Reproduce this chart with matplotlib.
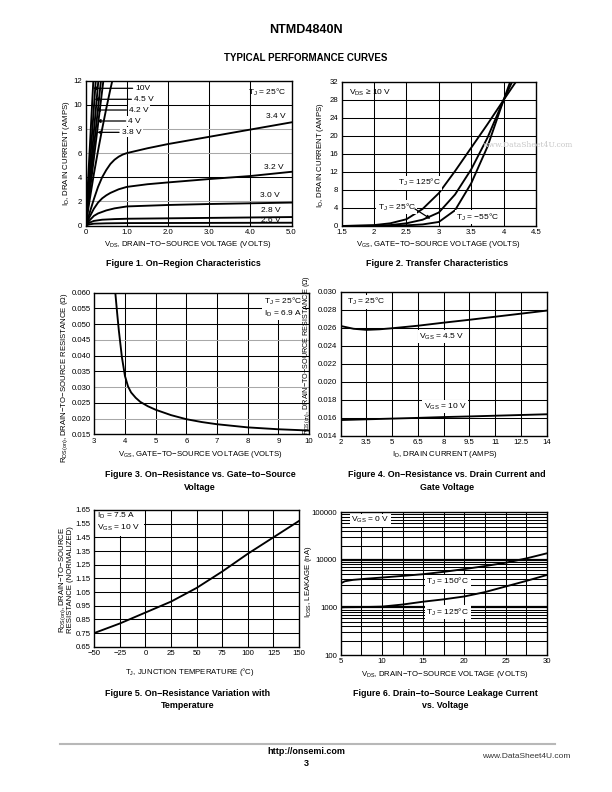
import numpy as np
import matplotlib
matplotlib.use("Agg")
import matplotlib.pyplot as plt

plt.rcParams['font.family'] = ['Liberation Sans', 'DejaVu Sans']
plt.rcParams['mathtext.fontset'] = 'custom'
plt.rcParams['mathtext.rm'] = 'Liberation Sans'
plt.rcParams['mathtext.it'] = 'Liberation Sans:italic'
plt.rcParams['mathtext.bf'] = 'Liberation Sans:bold'

# ---------------- Figure 1 data: On-region characteristics ----------------
f1_vds_10v = [0.0, 0.19]
f1_id_10v = [0.0, 12.3]
f1_vds_45v = [0.0, 0.25]
f1_id_45v = [0.0, 12.3]
f1_vds_42v = [0.0, 0.15, 0.315]
f1_id_42v = [0.0, 5.9, 12.3]
f1_vds_4v = [0.0, 0.18, 0.38]
f1_id_4v = [0.0, 5.9, 12.3]
f1_vds_38v = [0.0, 0.2, 0.44]
f1_id_38v = [0.0, 5.6, 12.3]
f1_vds_36v = [0.0, 0.1, 0.2, 0.3, 0.4, 0.5, 0.6, 0.7]
f1_id_36v = [0.0, 2.2, 4.3, 6.2, 8.0, 9.7, 11.3, 12.8]
f1_vds_34v = [0.0, 0.1, 0.2, 0.3, 0.4, 0.5, 0.6, 0.7, 0.8, 0.9, 1.0, 1.5, 2.0, 3.0, 4.0, 5.0]
f1_id_34v = [0.0, 1.1, 2.2, 3.2, 4.0, 4.6, 5.1, 5.45, 5.7, 5.88, 6.0, 6.4, 6.75, 7.35, 7.95, 8.55]
f1_vds_32v = [0.0, 0.1, 0.2, 0.3, 0.4, 0.5, 0.6, 0.8, 1.0, 1.5, 2.0, 3.0, 4.0, 5.0]
f1_id_32v = [0.0, 0.75, 1.4, 1.9, 2.25, 2.5, 2.7, 3.0, 3.2, 3.42, 3.57, 3.85, 4.1, 4.45]
f1_vds_30v = [0.0, 0.1, 0.2, 0.3, 0.5, 0.7, 1.0, 2.0, 3.0, 4.0, 5.0]
f1_id_30v = [0.0, 0.45, 0.8, 1.0, 1.25, 1.42, 1.58, 1.7, 1.78, 1.84, 1.9]
f1_vds_28v = [0.0, 0.1, 0.2, 0.4, 0.7, 1.0, 3.0, 5.0]
f1_id_28v = [0.0, 0.25, 0.38, 0.48, 0.53, 0.56, 0.63, 0.7]
f1_vds_26v = [0.0, 0.1, 0.2, 0.5, 1.0, 5.0]
f1_id_26v = [0.0, 0.1, 0.15, 0.18, 0.2, 0.23]

# ---------------- Figure 2 data: Transfer characteristics ----------------
f2_vgs = [1.5, 2.0, 2.25, 2.5, 2.75, 3.0, 3.25, 3.5, 3.75, 4.0, 4.15, 4.25]
f2_id_125 = [0.0, 0.2, 0.6, 1.5, 3.8, 7.3, 12.2, 17.4, 22.6, 28.0, 31.2, 33.3]
f2_id_25 = [0.0, 0.05, 0.2, 0.6, 1.4, 3.0, 7.0, 12.6, 19.6, 28.0, 32.6, 35.6]
f2_id_m55 = [0.0, 0.0, 0.05, 0.15, 0.35, 0.9, 3.5, 9.5, 17.6, 28.0, 34.0, 38.0]

# ---------------- Figure 3 data: RDS(on) vs VGS ----------------
f3_vgs = [3.68, 3.75, 3.8, 3.9, 4.0, 4.1, 4.2, 4.35, 4.5, 4.75, 5.0, 5.5, 6.0, 6.5, 7.0, 8.0, 9.0, 10.0]
f3_r = [0.0605, 0.053, 0.048, 0.0395, 0.0335, 0.0302, 0.0283, 0.0266, 0.0253, 0.0239, 0.0228, 0.0211, 0.0198, 0.0189, 0.0182, 0.0172, 0.0166, 0.0162]

# ---------------- Figure 4 data: RDS(on) vs ID ----------------
f4_id = [2.0, 2.75, 3.5, 4.25, 5.0, 6.5, 8.0, 9.5, 11.0, 12.5, 14.0]
f4_r_45v = [0.02619, 0.02588, 0.02576, 0.02582, 0.02594, 0.02622, 0.02656, 0.02688, 0.02722, 0.02756, 0.02790]
f4_r_10v = [0.01574, 0.01578, 0.01582, 0.01586, 0.01590, 0.01598, 0.01607, 0.01614, 0.01622, 0.01630, 0.01638]

# ---------------- Figure 5 data: normalized RDS(on) vs TJ ----------------
f5_tj = [-50, -25, 0, 25, 50, 75, 100, 125, 150]
f5_r = [0.75, 0.82, 0.90, 0.98, 1.08, 1.20, 1.33, 1.45, 1.57]

# ---------------- Figure 6 data: IDSS leakage vs VDS ----------------
f6_vds = [5, 5.5, 6.5, 8, 10, 12.5, 15, 17.5, 20, 22.5, 25, 27.5, 30]
f6_i_150 = [3200, 3550, 3800, 4000, 4250, 4600, 5000, 5600, 6400, 7400, 8700, 10700, 13700]
f6_i_125 = [1000, 1010, 1015, 1020, 1040, 1150, 1320, 1480, 1700, 2100, 2750, 3600, 4800]

# ---------------- tick / label definitions ----------------
f1_xticks = [0, 1, 2, 3, 4, 5]
f1_xlabels = ["0", "1.0", "2.0", "3.0", "4.0", "5.0"]
f1_yticks = [0, 2, 4, 6, 8, 10, 12]
f2_xticks = [1.5, 2, 2.5, 3, 3.5, 4, 4.5]
f2_xlabels = ["1.5", "2", "2.5", "3", "3.5", "4", "4.5"]
f2_yticks = [0, 4, 8, 12, 16, 20, 24, 28, 32]
f3_xticks = [3, 4, 5, 6, 7, 8, 9, 10]
f3_yticks = [0.015, 0.020, 0.025, 0.030, 0.035, 0.040, 0.045, 0.050, 0.055, 0.060]
f4_xticks = [2, 3.5, 5, 6.5, 8, 9.5, 11, 12.5, 14]
f4_xlabels = ["2", "3.5", "5", "6.5", "8", "9.5", "11", "12.5", "14"]
f4_yticks = [0.014, 0.016, 0.018, 0.020, 0.022, 0.024, 0.026, 0.028, 0.030]
f5_xticks = [-50, -25, 0, 25, 50, 75, 100, 125, 150]
f5_xlabels = ["−50", "−25", "0", "25", "50", "75", "100", "125", "150"]
f5_yticks = [0.65, 0.75, 0.85, 0.95, 1.05, 1.15, 1.25, 1.35, 1.45, 1.55, 1.65]
f6_xticks = [5, 10, 15, 20, 25, 30]
f6_xgrid = [7.5, 10, 12.5, 15, 17.5, 20, 22.5, 25, 27.5]
f6_yticks = [100, 1000, 10000, 100000]

W, H = 612, 792
fig = plt.figure(figsize=(W / 100, H / 100), dpi=100)

TFS = 5.6   # tick font size
LFS = 5.6   # label font size
AFS = 6.0   # annotation font size
CFS = 6.4   # caption font size
CURVE_LW = 1.35
GRID_LW = 0.75
GRAY = '#a8a8a8'

VDS = r"$\mathregular{V_{DS}}$"
VGS = r"$\mathregular{V_{GS}}$"
ID = r"$\mathregular{I_D}$"
TJ = r"$\mathregular{T_J}$"
RDS = r"$\mathregular{R_{DS(on)}}$"
IDSS = r"$\mathregular{I_{DSS}}$"


def add_ax(l, t, r, b):
    return fig.add_axes([l / W, 1 - b / H, (r - l) / W, (b - t) / H])


def T(x, y, s, **kw):
    kw.setdefault('fontsize', LFS)
    kw.setdefault('ha', 'center')
    kw.setdefault('va', 'center')
    fig.text(x / W, 1 - y / H, s, **kw)


def style(ax, xt, yt, xl=None, yl=None, hgray=(), vgray=()):
    ax.set_xticks(xt)
    ax.set_yticks(yt)
    if xl is not None:
        ax.set_xticklabels(xl)
    if yl is not None:
        ax.set_yticklabels(yl)
    ax.tick_params(length=0, pad=2.5, labelsize=TFS)
    for s in ax.spines.values():
        s.set_linewidth(1.0)
        s.set_zorder(5)
    x0, x1 = ax.get_xlim()
    y0, y1 = ax.get_ylim()
    for v in xt:
        if x0 < v < x1:
            ax.axvline(v, color=GRAY if v in vgray else 'k', lw=GRID_LW, zorder=1)
    for v in yt:
        if y0 < v < y1:
            ax.axhline(v, color=GRAY if v in hgray else 'k', lw=GRID_LW, zorder=1)


box = dict(facecolor='white', edgecolor='none', pad=1.0)
arrow = dict(arrowstyle='-|>', lw=0.9, color='k', mutation_scale=5, shrinkA=0, shrinkB=0)

# ================= Figure 1 =================
ax1 = add_ax(85.7, 80.7, 291.5, 225.5)
ax1.set_xlim(0, 5)
ax1.set_ylim(0, 12)
style(ax1, f1_xticks, f1_yticks, f1_xlabels, hgray=(2, 6, 8))
for xs, ys in [(f1_vds_10v, f1_id_10v), (f1_vds_45v, f1_id_45v), (f1_vds_42v, f1_id_42v),
               (f1_vds_4v, f1_id_4v), (f1_vds_38v, f1_id_38v), (f1_vds_36v, f1_id_36v),
               (f1_vds_34v, f1_id_34v), (f1_vds_32v, f1_id_32v), (f1_vds_30v, f1_id_30v),
               (f1_vds_28v, f1_id_28v), (f1_vds_26v, f1_id_26v)]:
    ax1.plot(xs, ys, color='k', lw=CURVE_LW, zorder=3)

f1_leaders = [("10V", 1.2, 11.37, 0.176), ("4.5 V", 1.17, 10.46, 0.215),
              ("4.2 V", 1.05, 9.57, 0.25), ("4 V", 1.03, 8.66, 0.27), ("3.8 V", 0.87, 7.72, 0.28)]
for txt, lx, ly, tip in f1_leaders:
    ax1.annotate('', xy=(tip, ly), xytext=(lx - 0.06, ly), arrowprops=arrow, zorder=4)
    ax1.text(lx, ly, txt, fontsize=AFS, ha='left', va='center', bbox=box, zorder=4)
for txt, lx, ly in [("3.4 V", 4.63, 9.0), ("3.2 V", 4.58, 4.8), ("3.0 V", 4.47, 2.5),
                    ("2.8 V", 4.5, 1.25), ("2.6 V", 4.5, 0.45)]:
    ax1.text(lx, ly, txt, fontsize=AFS, ha='center', va='center', zorder=4)
ax1.text(4.4, 11.05, TJ + " = 25°C", fontsize=AFS, ha='center', va='center', zorder=4)
T(188, 245, VDS + ", DRAIN−TO−SOURCE VOLTAGE (VOLTS)")
T(66, 153, ID + ", DRAIN CURRENT (AMPS)", rotation=90)
T(183, 264, "Figure 1. On−Region Characteristics", fontweight='bold', fontsize=CFS)

# ================= Figure 2 =================
ax2 = add_ax(341.7, 82, 536, 226)
ax2.set_xlim(1.5, 4.5)
ax2.set_ylim(0, 32)
style(ax2, f2_xticks, f2_yticks, f2_xlabels)
for ys in (f2_id_125, f2_id_25, f2_id_m55):
    ax2.plot(f2_vgs, ys, color='k', lw=CURVE_LW, zorder=3)
ax2.text(1.61, 29.5, VDS + " ≥ 10 V", fontsize=AFS, ha='left', va='center', zorder=4)
ax2.text(2.70, 9.6, TJ + " = 125°C", fontsize=AFS, ha='center', va='center', bbox=box, zorder=4)
ax2.text(2.35, 4.2, TJ + " = 25°C", fontsize=AFS, ha='center', va='center', bbox=box, zorder=4)
ax2.text(3.6, 2.0, TJ + " = −55°C", fontsize=AFS, ha='center', va='center', bbox=box, zorder=4)
ax2.annotate('', xy=(2.87, 1.6), xytext=(2.63, 3.8), arrowprops=arrow, zorder=4)
T(438, 245, VGS + ", GATE−TO−SOURCE VOLTAGE (VOLTS)")
T(321, 155, ID + ", DRAIN CURRENT (AMPS)", rotation=90)
T(437, 264, "Figure 2. Transfer Characteristics", fontweight='bold', fontsize=CFS)
T(528, 145, "www.DataSheet4U.com", fontsize=5.5, color='#c8c8c8', family='DejaVu Serif')

# ================= Figure 3 =================
ax3 = add_ax(94.3, 292.7, 309, 434.3)
ax3.set_xlim(3, 10)
ax3.set_ylim(0.015, 0.060)
style(ax3, f3_xticks, f3_yticks, yl=["%.3f" % v for v in f3_yticks], hgray=(0.045, 0.030, 0.020))
ax3.plot(f3_vgs, f3_r, color='k', lw=CURVE_LW, zorder=3)
ax3.text(9.15, 0.0554, TJ + " = 25°C\n" + ID + " = 6.9 A",
         fontsize=AFS, ha='center', va='center', bbox=box, zorder=4, linespacing=1.25)
T(200, 455, VGS + ", GATE−TO−SOURCE VOLTAGE (VOLTS)")
T(65, 378, RDS + ", DRAIN−TO−SOURCE RESISTANCE (Ω)", rotation=90)
T(200, 475, "Figure 3. On−Resistance vs. Gate−to−Source", fontweight='bold', fontsize=CFS)
T(200, 488, "Voltage", fontweight='bold', fontsize=CFS)

# ================= Figure 4 =================
ax4 = add_ax(340.7, 291.7, 546.7, 435.7)
ax4.set_xlim(2, 14)
ax4.set_ylim(0.014, 0.030)
style(ax4, f4_xticks, f4_yticks, f4_xlabels, ["%.3f" % v for v in f4_yticks])
ax4.plot(f4_id, f4_r_45v, color='k', lw=CURVE_LW, zorder=3)
ax4.plot(f4_id, f4_r_10v, color='k', lw=CURVE_LW, zorder=3)
ax4.text(3.5, 0.0289, TJ + " = 25°C", fontsize=AFS, ha='center', va='center', bbox=box, zorder=4)
ax4.text(7.9, 0.0250, VGS + " = 4.5 V", fontsize=AFS, ha='center', va='center', bbox=box, zorder=4)
ax4.text(8.1, 0.0172, VGS + " = 10 V", fontsize=AFS, ha='center', va='center', bbox=box, zorder=4)
T(445, 455, ID + ", DRAIN CURRENT (AMPS)")
T(307, 355, RDS + ", DRAIN−TO−SOURCE RESISTANCE (Ω)", rotation=90, fontsize=5.2)
T(447, 475, "Figure 4. On−Resistance vs. Drain Current and", fontweight='bold', fontsize=CFS)
T(447, 487, "Gate Voltage", fontweight='bold', fontsize=CFS)

# ================= Figure 5 =================
ax5 = add_ax(94.3, 510, 299, 646.7)
ax5.set_xlim(-50, 150)
ax5.set_ylim(0.65, 1.65)
style(ax5, f5_xticks, f5_yticks, f5_xlabels, ["%.2f" % v for v in f5_yticks])
ax5.plot(f5_tj, f5_r, color='k', lw=CURVE_LW, zorder=3)
ax5.text(-47, 1.565, ID + " = 7.5 A\n" + VGS + " = 10 V",
         fontsize=AFS, ha='left', va='center',
         bbox=dict(facecolor='white', edgecolor='none', pad=2.5), zorder=4, linespacing=1.25)
T(190, 672, TJ + ", JUNCTION TEMPERATURE (°C)")
T(63, 580, RDS + ", DRAIN−TO−SOURCE", rotation=90)
T(71, 580, "RESISTANCE (NORMALIZED)", rotation=90)
T(188, 693, "Figure 5. On−Resistance Variation with", fontweight='bold', fontsize=CFS)
T(188, 705, "Temperature", fontweight='bold', fontsize=CFS)

# ================= Figure 6 =================
ax6 = add_ax(340.7, 512.3, 546.7, 655)
ax6.set_yscale('log')
ax6.set_xlim(5, 30)
ax6.set_ylim(100, 100000)
ax6.set_xticks(f6_xticks)
ax6.set_yticks(f6_yticks)
ax6.set_yticklabels([str(v) for v in f6_yticks])
ax6.yaxis.set_minor_formatter(matplotlib.ticker.NullFormatter())
ax6.tick_params(which='both', length=0, pad=2.5, labelsize=TFS)
for s in ax6.spines.values():
    s.set_linewidth(1.0)
    s.set_zorder(5)
for v in f6_xgrid:
    ax6.axvline(v, color='k', lw=GRID_LW, zorder=1)
for dec in (100, 1000, 10000):
    for m in range(1, 10):
        v = dec * m
        if 100 < v < 100000:
            ax6.axhline(v, color='k', lw=GRID_LW if m > 1 else 1.6, zorder=1)
ax6.plot(f6_vds, f6_i_150, color='k', lw=CURVE_LW, zorder=3)
ax6.plot(f6_vds, f6_i_125, color='k', lw=CURVE_LW, zorder=3)
ax6.text(8.6, 68000, VGS + " = 0 V", fontsize=AFS, ha='center', va='center', bbox=box, zorder=4)
ax6.text(18.0, 3480, TJ + " = 150°C", fontsize=AFS, ha='center', va='center', bbox=box, zorder=4)
ax6.text(18.0, 793, TJ + " = 125°C", fontsize=AFS, ha='center', va='center', bbox=box, zorder=4)
T(445, 674, VDS + ", DRAIN−TO−SOURCE VOLTAGE (VOLTS)")
T(309, 582, IDSS + ", LEAKAGE (nA)", rotation=90)
T(445, 693, "Figure 6. Drain−to−Source Leakage Current", fontweight='bold', fontsize=CFS)
T(445, 705, "vs. Voltage", fontweight='bold', fontsize=CFS)

# ================= page header / footer =================
T(306, 30, "NTMD4840N", fontweight='bold', fontsize=9)
T(306, 58, "TYPICAL PERFORMANCE CURVES", fontweight='bold', fontsize=7)
fig.add_artist(matplotlib.lines.Line2D([60 / W, 555 / W], [1 - 744 / H, 1 - 744 / H],
                                       color='#b8b8b8', lw=1.5))
T(306, 752, "http://onsemi.com", fontweight='bold', fontsize=6.5)
T(306, 763, "3", fontweight='bold', fontsize=6.5)
T(526, 756, "www.DataSheet4U.com", fontsize=6, color='#333333')

fig.savefig("out.png", dpi=100)
